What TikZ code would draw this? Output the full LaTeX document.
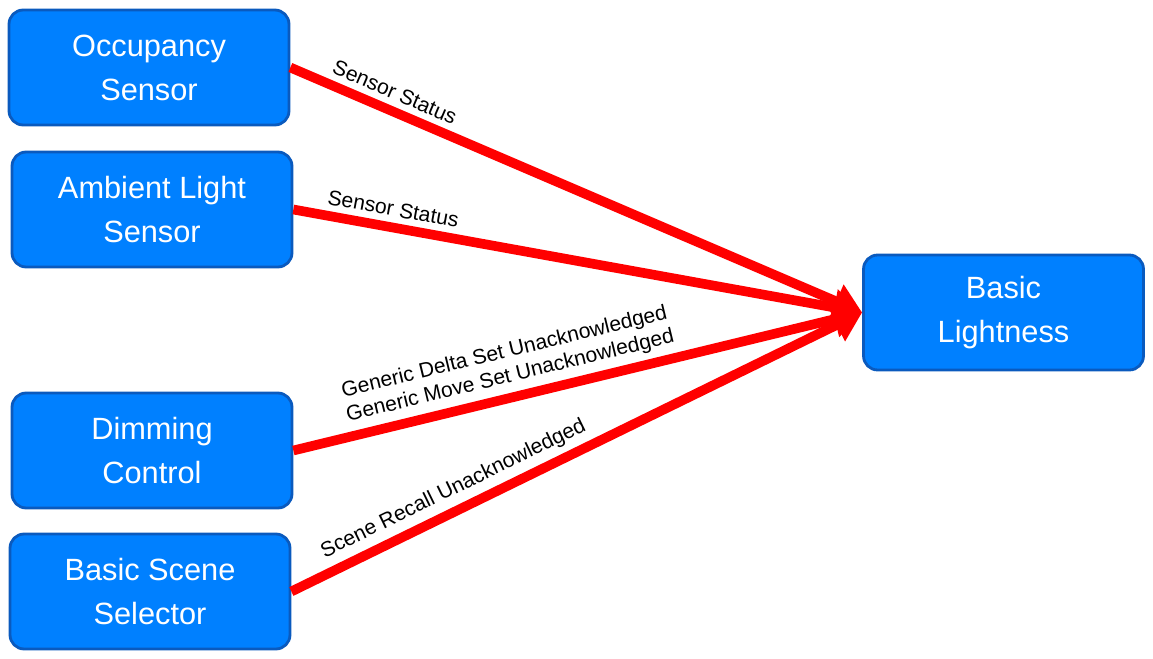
\documentclass[tikz,border=0pt]{standalone}
\usepackage{fontspec}
\setmainfont{Liberation Sans}
\usetikzlibrary{positioning, arrows.meta}
\definecolor{BoxColor}{RGB}{0,128,255}
\definecolor{BoxBorder}{RGB}{10,90,190}
\definecolor{LinkColor}{RGB}{255,0,0}
\tikzset{
  device/.style={rectangle, rounded corners=8pt, fill=BoxColor, draw=BoxBorder, line width=1.6pt, minimum width=5.6cm, minimum height=2.3cm, align=center, text=white, font=\fontsize{17.5}{25}\selectfont},
  link/.style={line width=5.5pt, LinkColor, -{Triangle[length=16pt, width=20pt]}},
  msg/.style={sloped, above, inner sep=3.5pt, align=center, text=black, font=\fontsize{12}{14}\selectfont}
}
\begin{document}
\begin{tikzpicture}[x=0.02cm, y=-0.02cm]
                \useasboundingbox (0,0) rectangle (1153,659);

                % Devices
                \node[device] (occupancy) at (149,67.5) {Occupancy\\Sensor};
                \node[device] (ambient) at (152,209.5) {Ambient Light\\Sensor};
                \node[device] (dimming) at (152,450.5) {Dimming\\Control};
                \node[device] (scene) at (150,591.5) {Basic Scene\\Selector};
                \node[device] (lightness) at (1003.5,312.5) {Basic\\Lightness};

                % Messages
                \draw[link] (occupancy.east) -- (lightness.west) node[msg, pos=0.17] {Sensor Status};
                \draw[link] (ambient.east) -- (lightness.west) node[msg, pos=0.17] {Sensor Status};
                \draw[link] (dimming.east) -- (lightness.west) node[msg, pos=0.39] {Generic Delta Set Unacknowledged\\Generic Move Set Unacknowledged};
                \draw[link] (scene.east) -- (lightness.west) node[msg, pos=0.3] {Scene Recall Unacknowledged};
\end{tikzpicture}
\end{document}
